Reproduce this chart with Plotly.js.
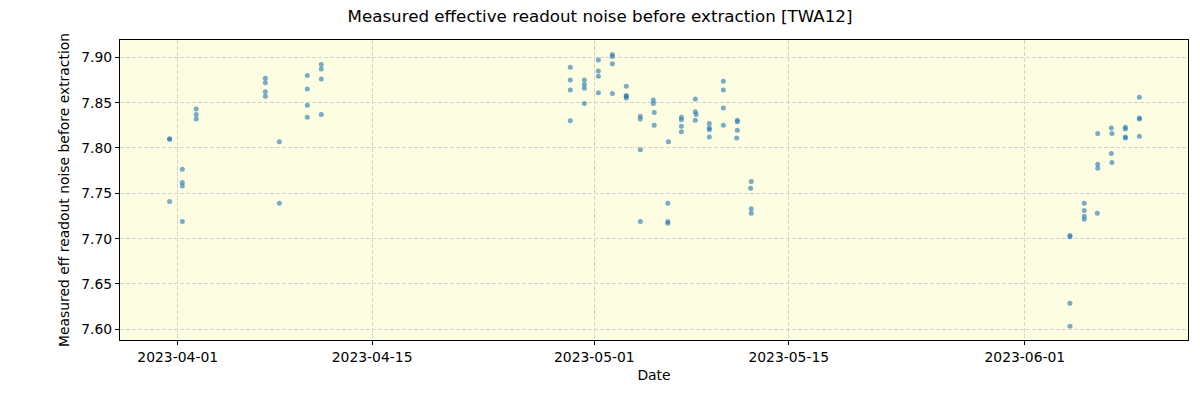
<!DOCTYPE html>
<html>
<head>
<meta charset="utf-8">
<script src="https://cdn.plot.ly/plotly-3.0.1.min.js"></script>
<style>html,body{margin:0;padding:0;background:#fff;}#chart{width:1200px;height:400px;}</style>
</head>
<body>
<div id="chart"></div>
<script>
const dates = [
  '2023-03-31 10:00','2023-03-31 10:00','2023-03-31 10:00',
  '2023-04-01 08:00','2023-04-01 08:00','2023-04-01 08:00','2023-04-01 08:00',
  '2023-04-02 08:00','2023-04-02 08:00','2023-04-02 08:00',
  '2023-04-07 07:30','2023-04-07 07:30','2023-04-07 07:30','2023-04-07 07:30',
  '2023-04-08 07:40','2023-04-08 07:40',
  '2023-04-10 08:00','2023-04-10 08:00','2023-04-10 08:00','2023-04-10 08:00',
  '2023-04-11 08:10','2023-04-11 08:10','2023-04-11 08:10','2023-04-11 08:10',
  '2023-04-29 06:30','2023-04-29 06:30','2023-04-29 06:30','2023-04-29 06:30',
  '2023-04-30 06:45','2023-04-30 06:45','2023-04-30 06:45','2023-04-30 06:45',
  '2023-05-01 07:00','2023-05-01 07:00','2023-05-01 07:00','2023-05-01 07:00',
  '2023-05-02 07:10','2023-05-02 07:10','2023-05-02 07:10','2023-05-02 07:10',
  '2023-05-03 07:15','2023-05-03 07:15','2023-05-03 07:15','2023-05-03 07:15',
  '2023-05-04 07:30','2023-05-04 07:30','2023-05-04 07:30','2023-05-04 07:30',
  '2023-05-05 06:00','2023-05-05 06:00','2023-05-05 07:30','2023-05-05 07:30',
  '2023-05-06 08:00','2023-05-06 07:00','2023-05-06 07:00','2023-05-06 07:00',
  '2023-05-07 06:30','2023-05-07 06:30','2023-05-07 06:30','2023-05-07 06:30',
  '2023-05-08 06:30','2023-05-08 06:30','2023-05-08 08:00','2023-05-08 06:30',
  '2023-05-09 06:45','2023-05-09 06:45','2023-05-09 06:45','2023-05-09 06:45',
  '2023-05-10 07:00','2023-05-10 07:00','2023-05-10 07:00','2023-05-10 07:00',
  '2023-05-11 07:10','2023-05-11 07:10','2023-05-11 07:10','2023-05-11 06:00',
  '2023-05-12 07:15','2023-05-12 06:00','2023-05-12 07:15','2023-05-12 07:15',
  '2023-06-04 06:00','2023-06-04 06:00','2023-06-04 06:00','2023-06-04 06:00',
  '2023-06-05 06:45','2023-06-05 06:45','2023-06-05 06:45','2023-06-05 06:45',
  '2023-06-06 05:15','2023-06-06 06:00','2023-06-06 06:00','2023-06-06 06:00',
  '2023-06-07 05:30','2023-06-07 06:30','2023-06-07 05:30','2023-06-07 06:30',
  '2023-06-08 05:45','2023-06-08 05:45','2023-06-08 05:45','2023-06-08 05:45',
  '2023-06-09 06:00','2023-06-09 06:00','2023-06-09 06:00','2023-06-09 06:00'
];
const noise = [
  7.810, 7.810, 7.741,
  7.7765, 7.762, 7.758, 7.719,
  7.843, 7.837, 7.832,
  7.877, 7.872, 7.862, 7.857,
  7.807, 7.739,
  7.880, 7.865, 7.847, 7.834,
  7.892, 7.887, 7.876, 7.837,
  7.889, 7.875, 7.864, 7.830,
  7.875, 7.870, 7.866, 7.849,
  7.897, 7.885, 7.879, 7.861,
  7.903, 7.901, 7.893, 7.860,
  7.868, 7.858, 7.857, 7.855,
  7.835, 7.832, 7.798, 7.719,
  7.853, 7.849, 7.839, 7.825,
  7.807, 7.739, 7.719, 7.717,
  7.834, 7.831, 7.824, 7.818,
  7.854, 7.840, 7.837, 7.8305,
  7.827, 7.822, 7.820, 7.812,
  7.8735, 7.864, 7.844, 7.825,
  7.8305, 7.829, 7.8195, 7.811,
  7.763, 7.7555, 7.733, 7.728,
  7.7035, 7.702, 7.6287, 7.6033,
  7.739, 7.731, 7.7246, 7.7213,
  7.728, 7.816, 7.782, 7.7776,
  7.822, 7.816, 7.794, 7.784,
  7.823, 7.821, 7.812, 7.811,
  7.856, 7.833, 7.832, 7.813
];
const xTickVals = ['2023-04-01','2023-04-15','2023-05-01','2023-05-15','2023-06-01'];
const xTickText = ['2023-04-01','2023-04-15','2023-05-01','2023-05-15','2023-06-01'];
const yTickVals = [7.60, 7.65, 7.70, 7.75, 7.80, 7.85, 7.90];
const yTickText = ['7.60','7.65','7.70','7.75','7.80','7.85','7.90'];

const trace = {
  x: dates, y: noise, type: 'scatter', mode: 'markers',
  marker: {size: 5, color: '#1f77b4', opacity: 0.6, line: {width: 0}},
  hoverinfo: 'x+y', showlegend: false
};
const font = {family: 'DejaVu Sans, sans-serif', size: 13.9, color: '#000'};
const layout = {
  width: 1200, height: 400,
  margin: {l: 120, r: 12, t: 40, b: 60, pad: 0},
  paper_bgcolor: '#ffffff',
  plot_bgcolor: '#fdfde2',
  font: font,
  title: {text: 'Measured effective readout noise before extraction [TWA12]',
          font: {family: 'DejaVu Sans, sans-serif', size: 16.7, color: '#000'},
          x: 0.5, xanchor: 'center', y: 0.96, yanchor: 'middle'},
  xaxis: {
    type: 'date', range: ['2023-03-27 20:17', '2023-06-12 18:00'],
    tickvals: xTickVals, ticktext: xTickText,
    showgrid: true, gridcolor: '#d4d4d4', griddash: '4px,2px', gridwidth: 1,
    showline: true, mirror: true, linecolor: '#000', linewidth: 1,
    ticks: 'outside', ticklen: 4, tickcolor: '#000', zeroline: false,
    title: {text: 'Date', font: font, standoff: 6}
  },
  yaxis: {
    range: [7.5882, 7.9191],
    tickvals: yTickVals, ticktext: yTickText,
    showgrid: true, gridcolor: '#d4d4d4', griddash: '4px,2px', gridwidth: 1,
    showline: true, mirror: true, linecolor: '#000', linewidth: 1,
    ticks: 'outside', ticklen: 4, tickcolor: '#000', zeroline: false,
    title: {text: 'Measured eff readout noise before extraction', font: font, standoff: 8}
  }
};
Plotly.newPlot('chart', [trace], layout, {displayModeBar: false, staticPlot: true});
</script>
</body>
</html>
